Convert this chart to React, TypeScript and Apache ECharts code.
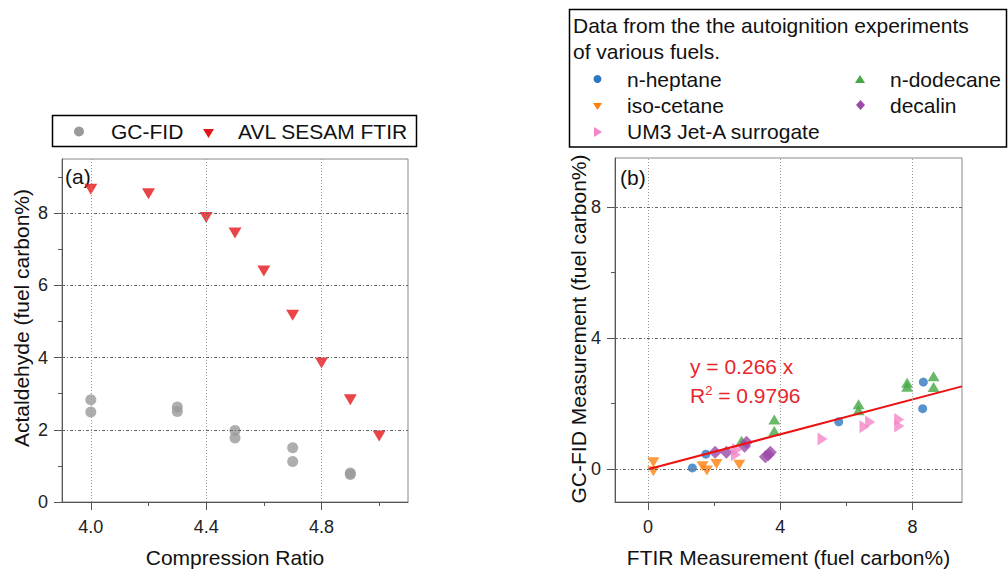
import React, { useEffect, useRef } from 'react';
import * as echarts from 'echarts';

// ---------- Data: panel (a) ----------
const gcfidX = [4.0, 4.0, 4.3, 4.3, 4.5, 4.5, 4.7, 4.7, 4.9, 4.9];
const gcfidY = [2.83, 2.49, 2.63, 2.51, 1.98, 1.77, 1.5, 1.12, 0.8, 0.76];
const ftirX = [4.0, 4.2, 4.4, 4.5, 4.6, 4.7, 4.8, 4.9, 5.0];
const ftirY = [8.66, 8.54, 7.88, 7.45, 6.4, 5.17, 3.85, 2.83, 1.83];

// ---------- Data: panel (b) ----------
const heptane = [[1.34, 0.04], [1.75, 0.46], [5.77, 1.45], [8.33, 2.66], [8.31, 1.85]];
const isoCetane = [[0.16, 0.21], [0.16, -0.06], [1.65, 0.09], [1.78, -0.04], [2.07, 0.16], [2.76, 0.14]];
const dodecane = [[2.83, 0.87], [3.82, 1.17], [3.82, 1.52], [6.37, 1.98], [6.37, 1.8], [7.84, 2.64], [7.84, 2.52], [8.64, 2.84], [8.64, 2.51]];
const decalin = [[2.03, 0.52], [2.37, 0.52], [2.92, 0.7], [2.98, 0.82], [3.55, 0.38], [3.64, 0.44], [3.7, 0.52]];
const um3 = [[2.66, 0.44], [2.7, 0.6], [5.28, 0.92], [6.55, 1.3], [6.72, 1.44], [7.6, 1.52], [7.6, 1.32]];
const fitLine = [[0, 0], [9.5, 2.53]];

// ---------- Ticks ----------
const leftXTicks = [4.0, 4.4, 4.8];
const leftXMinor = [4.2, 4.6, 5.0];
const leftYTicks = [0, 2, 4, 6, 8];
const leftYMinor = [1, 3, 5, 7, 9];
const rightTicks = [0, 4, 8];
const rightMinor = [2, 6];

const FONT = '"Liberation Sans", Arial, sans-serif';
const RED = '#e3161c';
const LINE_RED = '#ee1111';
const TEXT_RED = '#e8262b';
const GRAY = '#9a9a9a';
const BLUE = '#2e78c2';
const ORANGE = '#ff7f0e';
const GREEN = '#45a845';
const PURPLE = '#9b4aa8';
const PINK = '#f584c8';

function majorAxis(dim: 'x' | 'y', gridIndex: number, min: number, max: number, ticks: number[], fmt: (v: number) => string, name?: string) {
  return {
    type: 'value',
    gridIndex,
    min,
    max,
    position: dim === 'x' ? 'bottom' : 'left',
    axisLine: { show: true, onZero: false, lineStyle: { color: '#555', width: 1 } },
    axisTick: { show: true, inside: false, length: 8, customValues: ticks, lineStyle: { color: '#555', width: 1 } },
    axisLabel: { show: true, customValues: ticks, formatter: fmt, margin: dim === 'x' ? 16 : 14, fontSize: 18, color: '#222', fontFamily: FONT },
    splitLine: { show: false },
    name: name || '',
    nameLocation: 'middle',
    nameGap: 45,
    nameTextStyle: { fontSize: 21, color: '#111', fontFamily: FONT },
  };
}

function minorAxis(dim: 'x' | 'y', gridIndex: number, min: number, max: number, ticks: number[]) {
  return {
    type: 'value',
    gridIndex,
    min,
    max,
    position: dim === 'x' ? 'bottom' : 'left',
    axisLine: { show: false, onZero: false },
    axisTick: { show: true, inside: false, length: 4, customValues: ticks, lineStyle: { color: '#555', width: 1 } },
    axisLabel: { show: false },
    splitLine: { show: false },
  };
}

const vGrid = { type: [1, 2], color: '#999', width: 1 };
const hGrid = { type: [3, 2, 1, 2], color: '#666', width: 1 };

function gridLines(xIdx: number, yIdx: number, xs: number[], ys: number[]) {
  return {
    type: 'line',
    xAxisIndex: xIdx,
    yAxisIndex: yIdx,
    data: [],
    z: 1,
    silent: true,
    markLine: {
      silent: true,
      symbol: ['none', 'none'],
      label: { show: false },
      animation: false,
      data: [
        ...xs.map((v) => ({ xAxis: v, lineStyle: vGrid })),
        ...ys.map((v) => ({ yAxis: v, lineStyle: hGrid })),
      ],
    },
  };
}

const txt = (text: string, x: number, y: number, extra: any = {}) => ({
  type: 'text',
  x,
  y,
  ...extra.el,
  style: {
    text,
    fontSize: 21,
    fontFamily: FONT,
    fill: '#111',
    align: 'left',
    verticalAlign: 'middle',
    ...extra.style,
  },
});

const option: any = {
  animation: false,
  backgroundColor: '#fff',
  grid: [
    { left: 62, top: 159, width: 346, height: 345, show: true, borderColor: '#888', borderWidth: 1, backgroundColor: 'transparent' },
    { left: 615, top: 158, width: 347, height: 346, show: true, borderColor: '#888', borderWidth: 1, backgroundColor: 'transparent' },
  ],
  xAxis: [
    majorAxis('x', 0, 3.9, 5.1, leftXTicks, (v: number) => v.toFixed(1), 'Compression Ratio'),
    minorAxis('x', 0, 3.9, 5.1, leftXMinor),
    majorAxis('x', 1, -1, 9.5, rightTicks, (v: number) => String(v), 'FTIR Measurement (fuel carbon%)'),
    minorAxis('x', 1, -1, 9.5, rightMinor),
  ],
  yAxis: [
    majorAxis('y', 0, 0, 9.5, leftYTicks, (v: number) => String(v)),
    minorAxis('y', 0, 0, 9.5, leftYMinor),
    majorAxis('y', 1, -1, 9.5, rightTicks, (v: number) => String(v)),
    minorAxis('y', 1, -1, 9.5, rightMinor),
  ],
  series: [
    gridLines(0, 0, leftXTicks, [2, 4, 6, 8]),
    gridLines(2, 2, rightTicks, rightTicks),
    {
      name: 'GC-FID', type: 'scatter', xAxisIndex: 0, yAxisIndex: 0, z: 3,
      symbol: 'circle', symbolSize: 11, itemStyle: { color: GRAY },
      data: gcfidX.map((x, i) => [x, gcfidY[i]]),
    },
    {
      name: 'AVL SESAM FTIR', type: 'scatter', xAxisIndex: 0, yAxisIndex: 0, z: 3,
      symbol: 'triangle', symbolRotate: 180, symbolSize: [13, 11], itemStyle: { color: RED },
      data: ftirX.map((x, i) => [x, ftirY[i]]),
    },
    {
      name: 'n-heptane', type: 'scatter', xAxisIndex: 2, yAxisIndex: 2, z: 3,
      symbol: 'circle', symbolSize: 9, itemStyle: { color: BLUE }, data: heptane,
    },
    {
      name: 'iso-cetane', type: 'scatter', xAxisIndex: 2, yAxisIndex: 2, z: 3,
      symbol: 'triangle', symbolRotate: 180, symbolSize: [12, 10], itemStyle: { color: ORANGE }, data: isoCetane,
    },
    {
      name: 'n-dodecane', type: 'scatter', xAxisIndex: 2, yAxisIndex: 2, z: 3,
      symbol: 'triangle', symbolSize: [12, 10], itemStyle: { color: GREEN }, data: dodecane,
    },
    {
      name: 'decalin', type: 'scatter', xAxisIndex: 2, yAxisIndex: 2, z: 3,
      symbol: 'diamond', symbolSize: 13, itemStyle: { color: PURPLE }, data: decalin,
    },
    {
      name: 'UM3 Jet-A surrogate', type: 'scatter', xAxisIndex: 2, yAxisIndex: 2, z: 3,
      symbol: 'triangle', symbolRotate: -90, symbolSize: [13, 10], itemStyle: { color: PINK }, data: um3,
    },
    {
      name: 'fit', type: 'line', xAxisIndex: 2, yAxisIndex: 2, z: 4,
      showSymbol: false, symbol: 'none', lineStyle: { color: LINE_RED, width: 2 }, data: fitLine,
    },
  ],
  graphic: [
    // Legend (a)
    { type: 'rect', shape: { x: 52.5, y: 115.5, width: 364, height: 31 }, style: { fill: '#fff', stroke: '#000', lineWidth: 1.5 } },
    { type: 'circle', shape: { cx: 79, cy: 131.5, r: 5 }, style: { fill: GRAY } },
    txt('GC-FID', 111, 131.5),
    { type: 'polygon', shape: { points: [[203, 129], [214, 129], [208.5, 138]] }, style: { fill: RED } },
    txt('AVL SESAM FTIR', 238, 131.5),
    // Legend (b)
    { type: 'rect', shape: { x: 569.5, y: 9.5, width: 437, height: 137.5 }, style: { fill: '#fff', stroke: '#000', lineWidth: 1.5 } },
    txt('Data from the the autoignition experiments', 573, 25),
    txt('of various fuels.', 573, 51.5),
    { type: 'circle', shape: { cx: 597.5, cy: 79, r: 4 }, style: { fill: BLUE } },
    txt('n-heptane', 627, 79),
    { type: 'polygon', shape: { points: [[593, 103], [602, 103], [597.5, 110]] }, style: { fill: ORANGE } },
    txt('iso-cetane', 627, 105),
    { type: 'polygon', shape: { points: [[594, 127], [594, 137], [602, 132]] }, style: { fill: PINK } },
    txt('UM3 Jet-A surrogate', 627, 131),
    { type: 'polygon', shape: { points: [[855, 83], [865, 83], [860, 75]] }, style: { fill: GREEN } },
    txt('n-dodecane', 890, 79),
    { type: 'polygon', shape: { points: [[860.5, 100], [865, 105], [860.5, 110], [856, 105]] }, style: { fill: PURPLE } },
    txt('decalin', 890, 105),
    // Panel labels
    txt('(a)', 65, 176),
    txt('(b)', 620, 177),
    // Y axis titles
    txt('Actaldehyde (fuel carbon%)', 21, 318, { el: { rotation: Math.PI / 2 }, style: { align: 'center' } }),
    txt('GC-FID Measurement (fuel carbon%)', 578, 329, { el: { rotation: Math.PI / 2 }, style: { align: 'center' } }),
    // Fit equation
    txt('y = 0.266 x', 690, 366, { style: { fill: TEXT_RED } }),
    {
      type: 'text', x: 690, y: 395,
      style: {
        text: 'R{sup|2} = 0.9796',
        fontSize: 21, fontFamily: FONT, fill: TEXT_RED, align: 'left', verticalAlign: 'middle',
        rich: { sup: { fontSize: 13, fontFamily: FONT, fill: TEXT_RED, padding: [0, 0, 9, 0] } },
      },
    },
  ],
};

export default function App() {
  const ref = useRef<HTMLDivElement>(null);
  useEffect(() => {
    const chart = echarts.init(ref.current!, null, { renderer: 'svg' });
    chart.setOption(option);
    return () => chart.dispose();
  }, []);
  return (
    <div
      ref={ref}
      style={{ position: 'fixed', left: 0, top: 0, width: 1008, height: 573, background: '#fff' }}
    />
  );
}
